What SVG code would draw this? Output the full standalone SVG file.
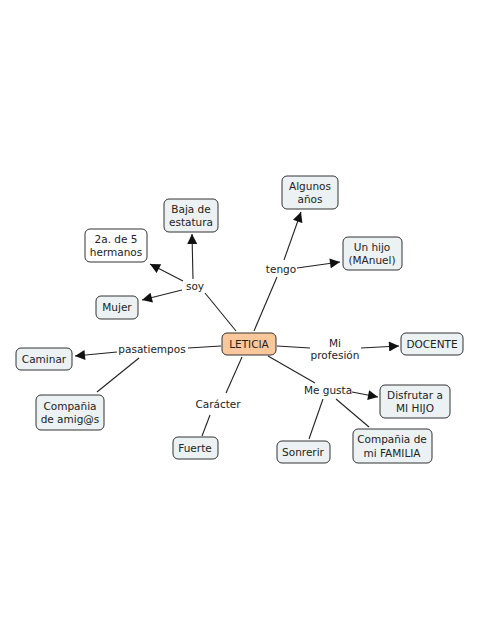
<svg xmlns="http://www.w3.org/2000/svg" width="481" height="640" viewBox="0 0 481 640">
<defs>
<marker id="ah" viewBox="0 0 10 10" refX="10" refY="5" markerWidth="11" markerHeight="10" markerUnits="userSpaceOnUse" orient="auto">
<path d="M0,0 L10,5 L0,10 z" fill="#111"/>
</marker>
</defs>
<style>
.n rect{fill:#ecf2f3;stroke:#333;stroke-width:1}
.w rect{fill:#fff}
.c rect{fill:#fbc89b}
text{font-family:"DejaVu Sans",Verdana,sans-serif;font-size:10.5px;fill:#222;text-anchor:middle}
.e line{stroke:#222;stroke-width:1.1}
.e .a{marker-end:url(#ah)}
</style>
<rect width="481" height="640" fill="#fff"/>
<g id="connectors" class="e">
<line x1="236" y1="331" x2="205" y2="293"/>
<line x1="193" y1="279" x2="192" y2="234" class="a"/>
<line x1="183" y1="281" x2="150" y2="264" class="a"/>
<line x1="182" y1="290" x2="142" y2="300" class="a"/>
<line x1="254" y1="331" x2="277" y2="277"/>
<line x1="284" y1="260" x2="301" y2="212" class="a"/>
<line x1="297" y1="268" x2="340" y2="262" class="a"/>
<line x1="221" y1="346" x2="188" y2="348"/>
<line x1="117" y1="352" x2="75" y2="356" class="a"/>
<line x1="139" y1="358" x2="97" y2="392"/>
<line x1="277" y1="346" x2="310" y2="348"/>
<line x1="361" y1="348" x2="399" y2="346" class="a"/>
<line x1="242" y1="357" x2="226" y2="393"/>
<line x1="210" y1="415" x2="202" y2="436"/>
<line x1="268" y1="356" x2="315" y2="383"/>
<line x1="352" y1="392" x2="378" y2="397" class="a"/>
<line x1="323" y1="399" x2="309" y2="439"/>
<line x1="336" y1="399" x2="369" y2="427"/>
</g>
<g id="leticia" class="n c"><rect x="222" y="333" width="54" height="22" rx="5"/><text x="249" y="348">LETICIA</text></g>
<g id="baja" class="n"><rect x="164" y="199" width="54" height="33" rx="5"/><text x="191" y="213">Baja de</text><text x="191" y="226">estatura</text></g>
<g id="hermanos" class="n w"><rect x="85" y="229" width="62" height="33" rx="5"/><text x="116" y="243">2a. de 5</text><text x="116" y="256">hermanos</text></g>
<g id="mujer" class="n"><rect x="96" y="296" width="42" height="23" rx="5"/><text x="117" y="311">Mujer</text></g>
<g id="algunos" class="n"><rect x="282" y="176" width="56" height="33" rx="5"/><text x="310" y="190">Algunos</text><text x="310" y="203">años</text></g>
<g id="hijo" class="n"><rect x="343" y="237" width="59" height="33" rx="5"/><text x="372" y="251">Un hijo</text><text x="372" y="264">(MAnuel)</text></g>
<g id="docente" class="n"><rect x="401" y="333" width="62" height="22" rx="5"/><text x="432" y="348">DOCENTE</text></g>
<g id="caminar" class="n"><rect x="16" y="348" width="56" height="22" rx="5"/><text x="44" y="363">Caminar</text></g>
<g id="amigos" class="n"><rect x="36" y="395" width="68" height="35" rx="5"/><text x="70" y="410">Compañia</text><text x="70" y="423">de amig@s</text></g>
<g id="fuerte" class="n"><rect x="173" y="437" width="45" height="22" rx="5"/><text x="195" y="452">Fuerte</text></g>
<g id="disfrutar" class="n"><rect x="380" y="385" width="70" height="33" rx="5"/><text x="415" y="399">Disfrutar a</text><text x="415" y="412">MI HIJO</text></g>
<g id="sonrerir" class="n"><rect x="277" y="441" width="53" height="22" rx="5"/><text x="303" y="456">Sonrerir</text></g>
<g id="familia" class="n"><rect x="353" y="429" width="79" height="34" rx="5"/><text x="392" y="443">Compañia de</text><text x="392" y="457">mi FAMILIA</text></g>
<g id="labels">
<text x="195" y="290">soy</text>
<text x="281" y="273">tengo</text>
<text x="152" y="353">pasatiempos</text>
<text x="335" y="347">Mi</text>
<text x="335" y="359">profesión</text>
<text x="218" y="408">Carácter</text>
<text x="328" y="394">Me gusta</text>
</g>
</svg>
